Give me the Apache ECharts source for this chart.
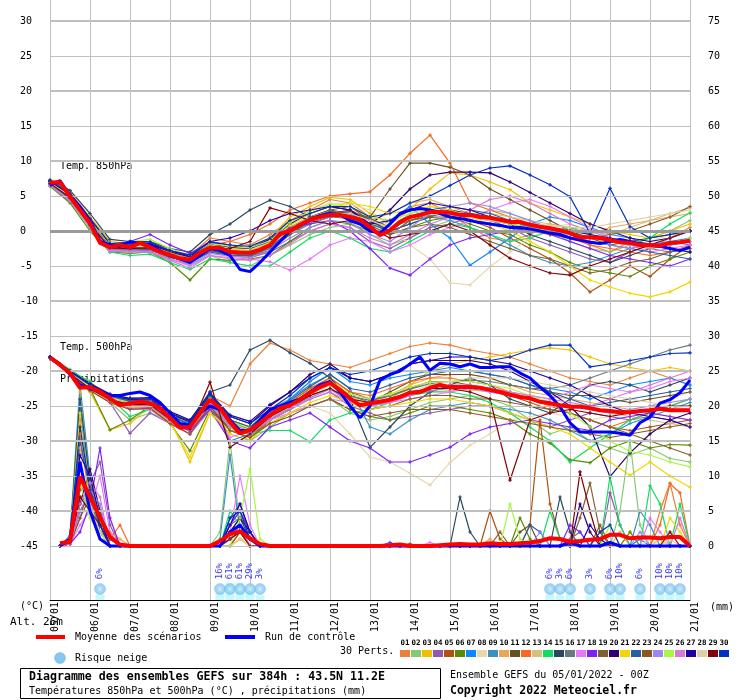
<!DOCTYPE html>
<html>
<head>
<meta charset="utf-8">
<script src="https://cdn.jsdelivr.net/npm/echarts/dist/echarts.min.js"></script>
<style>
  html, body { margin: 0; padding: 0; background: #fff; }
  #chart { width: 740px; height: 700px; }
</style>
</head>
<body>
<div id="chart"></div>
<script>
// x axis: hours since 05/01 00Z, one label per day
const dateLabels = ['05/01','06/01','07/01','08/01','09/01','10/01','11/01','12/01','13/01',
                    '14/01','15/01','16/01','17/01','18/01','19/01','20/01','21/01'];
const gridValues = [-45,-40,-35,-30,-25,-20,-15,-10,-5,0,5,10,15,20,25,30];

const memberColors = ['#e8823a','#88c870','#f0c000','#9058b0','#b05010','#5a8a00','#0c88ff','#e8d8b0',
  '#3c90c0','#e8a858','#6a5020','#f86820','#d4c080','#10dc60','#284860','#687880','#e878f8','#8020f8',
  '#806030','#300070','#f0d800','#2860a0','#8c5820','#9c88f0','#a8f840','#d878d8','#2000a0','#e0d0a8',
  '#800008','#0030c0'];

// 6-hourly: mean of scenarios and control run
const t850Mean = [6.9,7.0,4.9,3.0,1.1,-1.7,-2.3,-2.0,-2.3,-1.7,-2.3,-3.0,-3.4,-3.9,-4.1,-3.1,-2.4,-2.4,-3.0,-3.1,
  -3.1,-2.7,-2.0,-0.4,0.0,0.9,1.6,2.0,2.3,2.3,2.0,1.6,0.6,-0.6,0.1,1.3,2.0,2.3,2.7,2.7,
  2.6,2.3,2.3,2.0,1.9,1.6,1.3,1.3,0.9,0.6,0.4,0.1,-0.3,-0.9,-0.9,-1.0,-1.3,-1.6,-1.7,-2.0,
  -2.0,-2.1,-1.7,-1.6,-1.4];
const t850Ctrl = [6.5,7.2,5.0,3.5,1.5,-1.5,-2.0,-2.2,-1.5,-1.8,-2.0,-2.8,-3.5,-4.0,-4.5,-3.5,-2.5,-2.8,-3.5,-5.5,
  -5.8,-4.5,-3.0,-1.5,0.0,0.8,1.5,2.2,2.5,2.3,1.5,1.0,0.0,-0.3,1.0,2.5,3.0,3.2,3.0,2.5,
  2.0,1.8,1.5,1.2,1.0,0.8,0.5,0.5,0.3,0.0,-0.3,-0.5,-1.0,-1.3,-1.6,-1.8,-1.5,-1.2,-1.5,-1.8,
  -2.0,-2.2,-2.5,-2.8,-2.3];
const t500Mean = [-18.1,-19.1,-20.3,-22.4,-22.3,-23.0,-23.9,-24.9,-24.6,-24.4,-24.6,-25.3,-26.7,-28.1,-28.0,
  -26.0,-24.1,-25.3,-27.3,-28.9,-28.4,-27.4,-26.3,-25.3,-24.9,-24.1,-23.1,-22.3,-21.7,-22.7,
  -23.9,-24.9,-24.6,-24.4,-24.1,-23.7,-23.1,-23.0,-22.4,-22.0,-22.3,-22.3,-22.3,-22.4,-22.7,
  -23.0,-23.4,-23.7,-23.9,-24.4,-24.6,-24.9,-25.1,-25.1,-25.3,-25.6,-25.7,-25.9,-25.9,-25.7,
  -25.6,-25.4,-25.6,-25.6,-25.6];
const t500Ctrl = [-18.0,-19.0,-20.5,-22.0,-22.5,-23.0,-23.5,-23.5,-23.2,-23.0,-23.5,-24.5,-26.0,-27.5,-27.7,
  -26.0,-25.0,-25.5,-27.0,-28.5,-28.5,-27.0,-25.5,-25.0,-24.5,-24.0,-23.0,-22.0,-21.5,-23.0,
  -25.0,-26.7,-25.0,-21.3,-20.5,-20.0,-19.0,-18.0,-19.9,-18.9,-19.0,-19.4,-19.0,-19.5,-19.5,
  -19.4,-19.4,-20.3,-21.0,-22.3,-23.5,-25.1,-27.4,-28.7,-28.7,-28.7,-28.7,-28.9,-29.2,-27.4,
  -26.6,-24.6,-24.1,-23.1,-21.3];
const rainMean = [null,0.4,0.6,9.9,7.0,4.1,1.3,0.2,0,0,0,0,0,0,0,0,0,0.7,1.7,2.1,
  1.1,0.3,0,0,0,0,0,0,0,0,0,0,0,0,0.1,0.2,0,0,0,0.1,
  0.2,0.3,0.2,0.2,0.4,0.3,0.3,0.4,0.5,0.7,1.1,1.0,0.6,0.7,0.9,1.0,1.6,1.6,1.1,1.2,
  1.2,1.1,1.3,1.3,0];
// control precipitation, [6h step, mm], other steps dry
const rainCtrl = [[2,1],[3,12],[4,5],[5,1],[18,2],[19,3],[20,1],[52,0.5],[56,0.5]];

// 12-hourly members 01..30, 850 hPa
const t850Members = [
  [7,5.2,1.5,-2,-2.5,-1.8,-3,-3.5,-1,-1.5,-2,-0.5,1.5,3,4.5,4,2,1.5,3.5,4,2.5,0.5,-1,-1.5,-0.5,1,0.5,-2,-3,-1.5,-2.5,-1,0.5],
  [6.6,4.5,0.5,-2.8,-3,-2.5,-4,-4.8,-3.5,-4.5,-5,-3.5,-2,-0.5,0.5,1,-0.5,-2,-1,0.5,1.5,2,3,2.5,1.5,0,-1.5,-2.5,-3,-2,-1,0,1.5],
  [7.2,5.5,2,-1.5,-1.8,-2,-3,-4,-2,-2.5,-2.5,-1,2,3.5,4.8,4.5,2.5,1,3,6,8.3,8,7,5.9,4,3,2,1,0,-0.5,-1,0,1],
  [6.5,4.2,0.8,-2.5,-2.8,-2.8,-3.5,-4.5,-3,-3.5,-3.8,-3,-1.5,0,1,0.5,-1.5,-2.5,-1,0.5,1,2,1.5,0.5,-1,-2,-3,-4,-4.5,-3,-2,-2.5,-3],
  [6.8,4.6,1,-2.2,-2.5,-2.6,-3.8,-4.2,-2.8,-3,-3.5,-2.5,0.5,2,3,3.5,1.5,-0.5,1.5,2.5,3,1.5,0.5,-1,-2.5,-4,-6,-8.7,-7,-5,-6.5,-4,-2],
  [6.4,4,0,-3,-3.2,-3,-4.5,-7,-4,-4.2,-4,-3.5,-1.5,0.5,1.5,1,0,-0.5,0.5,1.5,2,1,0,-0.5,-2,-3,-4.5,-5.5,-6,-6.5,-5,-4,-3],
  [7.1,5,1.4,-2,-2,-2.2,-3.2,-3.8,-2.2,-2.8,-3,-1.5,0.5,2,2.5,2,0.5,1.5,3.5,1,-1,-4.9,-3,-1,1,2,1.5,0.5,-0.5,-1,-2,-1.5,-1],
  [6.7,4.8,1.2,-2.4,-2.2,-2,-3,-3.6,-2,-2.5,-2.8,-1,1,3,4,3.8,3,0.5,-2,-4,-7.4,-7.7,-5.1,-3,-1,0.5,1,0,-1,-2,-1.5,-0.5,0],
  [6.9,4.7,0.8,-2.6,-2.4,-2.3,-3.5,-4.3,-2.8,-3.2,-3.5,-2.5,-0.5,1,2,2.5,1.5,0,1,2,1.5,0.5,-0.5,-2,-3.5,-4.5,-5,-4.5,-3.5,-2.5,-2,-1.5,-2],
  [6.8,5.1,1.6,-2,-1.8,-1.5,-2.8,-3.5,-1.5,-2,-2.5,-1,1,2.5,3.5,3,1.5,2.5,4,4.5,3.5,2.5,2,1,0.5,0,-1,-0.5,0.5,1,1.5,2,2.5],
  [7,5,1.3,-2.1,-2.3,-2.4,-3.6,-4.4,-2.6,-3,-3.2,-2,0.5,2,3,2.5,2,6,9.7,9.7,9.1,8,6,4.5,3,1.5,0,-1,-2,-1.5,-1,-0.5,0],
  [6.6,4.4,0.6,-2.7,-2.6,-2.2,-3.2,-4,-2,-1.5,-0.5,1,3,4,5,5.3,5.6,8,11.1,13.7,9.7,4,3,2,1,0,-1,-2,-2.5,-3,-3.5,-3,-2],
  [6.9,5,1.2,-2.2,-2,-2,-3,-3.8,-2.2,-2.6,-2.8,-1.8,0.5,2,2.8,2.5,1,0.5,2.5,3.5,3,2.5,2.5,2,1.5,1,0.5,0,-0.5,0.5,1.5,2.5,3.3],
  [6.5,4.3,0.4,-3,-3.5,-3.3,-4.5,-5.5,-4,-4.5,-5,-5,-3,-1,0,-1,-2.5,-3,-1.5,0,1,0.5,-0.5,-1.5,-1,0,0.5,-0.5,-1.5,-2,-1,1,2.6],
  [7.3,5.8,2.5,-1.2,-1.5,-1.5,-2.5,-3,-0.5,1,3,4.4,3.5,2,2.5,3,1.5,0,1,2,3,2.5,2,1,-0.5,-1.5,-2.5,-3.5,-4.5,-3.5,-2.5,-2,-1.5],
  [6.8,4.9,1,-2.3,-2.4,-2.5,-3.5,-4.2,-2.5,-3,-3.3,-2.3,-0.3,1.2,2,1.8,0.3,-0.5,1.5,2.2,2.5,2,1.5,1,0.5,0,-0.5,-1,-1.5,-2,-2.5,-3,-2.5],
  [6.6,4.5,0.5,-2.8,-3,-3,-4,-5,-3.5,-3.8,-4,-4.4,-5.6,-4,-2,-1,-1.5,-3,-2,-0.5,0.5,1.5,3,4,4.5,3.5,2,0.5,-1,-2,-3,-2.5,-2],
  [7,5,1.2,-2,-1.5,-0.5,-2,-3.2,-1.5,-2,-2.5,-1.5,0.5,1,1.5,0,-2.5,-5.3,-6.3,-4,-2,-1,-0.5,0,0.5,-0.5,-1.5,-2.5,-3.5,-4,-4.5,-5,-4],
  [6.9,4.8,1,-2.4,-2.5,-2.5,-3.6,-4.4,-2.8,-3.4,-3.6,-2.8,-0.5,1.5,2.5,2.2,0.8,-0.5,0.5,1,0.5,-0.5,-1.5,-2.5,-3.5,-4,-5,-6,-5.5,-4.5,-4,-3,-2.5],
  [7.1,5.2,1.6,-1.8,-1.8,-1.9,-3,-3.7,-1.8,-2.3,-2.5,-1.2,1,2.5,3.5,3,1,3,6,8,8.4,8.4,8.3,7,5.5,4,2.5,1,0,-1,-1.5,-1,0],
  [6.8,5,1.4,-2.1,-2.1,-2.1,-3.2,-4,-2.3,-2.7,-2.9,-1.6,0.8,2.5,3.5,4,3.5,2.5,3,3.5,3,2,1,0,-1.5,-3,-5,-7,-8,-8.9,-9.4,-8.7,-7.3],
  [6.7,4.6,0.9,-2.5,-2.6,-2.6,-3.7,-4.5,-3,-3.5,-3.5,-2.2,0,1.8,2.8,2.5,1,0,2,3,3.5,3,2.5,1.5,0.5,-0.5,-1,-1.5,-2,-2.5,-3,-3.5,-4],
  [6.9,4.9,1.1,-2.2,-2.3,-2.2,-3.3,-4,-2.3,-2.8,-3,-1.9,0.2,1.6,2.5,2.8,1.8,0.5,1.5,2,2,1.5,1,0.5,0,-0.5,-1,-1,-0.5,0,1,2,3.5],
  [6.6,4.4,0.6,-2.7,-2.8,-2.9,-4,-4.8,-3.2,-3.6,-3.8,-2.8,-1,0.5,1.5,1.2,-0.5,-1.5,0.5,2.5,3.5,4,3.5,2.5,1.5,0.5,-0.5,-1.5,-2,-2.5,-2,-1,0],
  [6.8,4.9,1.3,-2,-1.5,-1.2,-2.5,-3.5,-1.8,-2.2,-2.4,-1.4,1.2,2.8,3.8,3.5,2,1.5,2.5,3,2.5,2,1.5,1,0.5,0,-0.5,-1,-1.5,-2,-2.5,-2,-1],
  [6.5,4.3,0.5,-2.9,-3,-3,-4.2,-5.3,-3.5,-4,-4.2,-3.5,-1.8,0,1,0.5,-1,-2,-0.5,1,2,3,4.5,5,4,2.5,1,0,-1,-2,-2.5,-2,-1.5],
  [7,5,1.2,-2.2,-2,-1.8,-2.8,-3.6,-1.5,-1,0,1.5,2.5,3,3.5,3,1,1.5,3,4,3.5,3,2,1.5,1,0.5,0,-0.5,-1,-1.5,-2,-2.5,-3],
  [6.9,5,1.2,-2.3,-2.2,-2.2,-3.3,-4,-2.4,-2.9,-3,-2,0,1.4,2.2,2.5,1.5,0.5,1.8,2.5,2.2,2,1.5,1.2,1,0.8,0.5,0.5,1,1.5,2,2.5,3],
  [6.8,4.8,1,-2.4,-2.5,-2.4,-3.5,-4.3,-2.6,-2.5,-1.5,3.3,2.5,1.5,1,1.5,0.5,-1,-0.5,0,1,0,-2,-3.9,-5,-6,-6.3,-5,-4,-3,-2,-1,0],
  [7.2,5.4,1.8,-1.8,-1.6,-1.6,-2.8,-3.4,-1.6,-2,-2.2,-1,1.5,2.5,3.5,3.5,2,2.5,4,5,6.5,8,9,9.3,8,6.6,4.9,-0.3,6.1,0.6,-1,-0.5,0]
];

// 12-hourly members 01..30, 500 hPa
const t500Members = [
  [-18,-20.5,-22,-24,-23.8,-24,-26,-27.5,-23.5,-25,-19,-16,-17,-18.5,-19,-19.5,-18.5,-17.5,-16.5,-16,-16.3,-17,-17.5,-18,-19,-20,-21,-21.5,-22,-21,-20,-21,-22],
  [-18,-20.2,-21.4,-24.5,-27,-26,-27,-28.5,-25.5,-28,-30,-28,-26,-25,-24,-26,-27,-26.5,-25.5,-24.5,-24,-23.5,-24,-25,-27,-29,-28,-30,-31,-32,-31,-32.5,-33],
  [-18.1,-20.4,-23,-28.4,-27.5,-25,-27,-33,-26,-29,-30,-27,-25,-23,-22,-24,-25,-24,-22,-20,-19,-18.5,-18,-17.5,-17,-16.7,-17,-18,-19,-19.5,-20,-19.5,-20],
  [-18.2,-20.6,-22.8,-24.5,-28.9,-26,-27.5,-29,-25.5,-28.5,-29.5,-27,-25.5,-24,-23,-25,-26,-27,-26.5,-26,-25.5,-25,-25,-26,-27,-28,-27,-26,-26.5,-27,-26.5,-27,-28],
  [-18,-20.1,-22.2,-23.8,-24.3,-24.2,-26.5,-28.5,-23,-27,-28.5,-26,-24.5,-22.5,-21,-23,-24,-23.5,-22.5,-21.5,-21.5,-22,-22.5,-23.5,-24.5,-25.5,-26,-27,-28,-28.5,-28,-27.5,-27],
  [-18.1,-20.5,-22.5,-28.4,-27,-25,-27.5,-31.4,-25.5,-28,-29,-27.5,-26,-25,-24,-25.5,-26.5,-27,-26,-25,-25,-25.5,-26,-27,-29,-30.3,-32.7,-33.1,-31,-30,-31,-30.5,-30.6],
  [-18.1,-20.2,-22.2,-23.5,-24.2,-24.3,-26.5,-27.5,-23,-30,-29,-26.5,-24,-21.5,-19.5,-21.5,-22,-21,-20.5,-20,-19.5,-20,-20.5,-21,-22,-22.5,-23,-24,-23,-22,-21.5,-21,-22],
  [-18.2,-20.4,-22.3,-24,-24.8,-24.5,-26.8,-28.5,-24.5,-28,-29,-27,-26,-25,-26,-29,-32.3,-33,-34.6,-36.3,-33.1,-30.6,-29,-27,-26.5,-26,-26.5,-27,-26.5,-25.5,-25,-24,-23],
  [-18,-20.2,-22,-23.6,-24.3,-24.4,-26.3,-27.6,-23.8,-27,-28,-25.5,-24,-22,-20.5,-22.5,-28,-29,-27,-25.5,-25,-24.5,-25,-25.5,-26,-27,-28.5,-30,-29,-27.5,-26.5,-25.5,-24.5],
  [-18.1,-20.3,-22.5,-24.2,-25,-24.8,-26.8,-28,-24.2,-27.5,-28.5,-26.5,-25,-23.5,-22.5,-24,-24.5,-23.5,-22,-21,-20.5,-20.5,-21,-22,-23,-23.5,-24,-24.5,-25,-25.5,-26,-26.5,-27],
  [-18.2,-20.4,-22.6,-24.3,-25.2,-25,-27,-28.5,-25,-28.5,-29,-27,-25.5,-23.5,-21.5,-23.5,-24.5,-23,-21.5,-20.5,-20.5,-20.5,-21,-22,-22.5,-23,-23.5,-23.5,-24,-24.5,-24,-23.5,-23],
  [-18.1,-20.3,-22.1,-23.7,-24.4,-24.5,-26.6,-27.8,-24,-27,-28,-26,-24.5,-22.5,-21,-23,-23.5,-22.5,-21.5,-21,-21,-21.5,-22,-23,-24,-25,-26,-27,-28,-27,-26,-25,-24],
  [-18.1,-20.3,-22.4,-24.1,-24.8,-24.7,-27,-28.3,-24.3,-27.6,-28.6,-26.6,-25,-23.3,-22,-24,-25,-24.5,-23.5,-23,-22.8,-22.7,-23,-23.5,-24,-24.5,-25,-25.5,-26,-26.5,-27,-27.5,-28],
  [-18,-19.8,-21.6,-23.8,-26.5,-25.5,-27,-28.5,-24.5,-28,-29,-28.5,-28.5,-30.1,-27,-26,-25.5,-24.5,-23.5,-23,-23,-23.5,-24.5,-26,-28,-30,-33,-31,-29,-27,-26,-25,-24],
  [-18.2,-20,-22.5,-23.5,-24,-24.5,-26.5,-27,-23,-22,-17,-15.6,-17.4,-18.9,-21,-24,-30.9,-28,-25,-23,-22,-21,-22,-24,-25,-26,-24,-22,-21.5,-22,-23,-22,-21],
  [-18.1,-20.3,-22.3,-23.9,-24.6,-24.6,-26.7,-28,-24,-27.3,-28.3,-26.2,-24.8,-23,-21.8,-23.6,-24.2,-23.6,-22.6,-21.8,-21.5,-21.3,-21.5,-22,-22.5,-22.5,-22,-21,-20,-19,-18,-17,-16.3],
  [-18.2,-20.5,-22.7,-24.4,-25.5,-25.5,-27.5,-29,-25.5,-29.5,-28.5,-27,-26,-25,-24,-24.5,-25,-24.5,-24,-23.5,-23,-22.5,-22.5,-23,-23.5,-24,-23,-22,-22.5,-23,-22.5,-21.5,-21],
  [-18.1,-20.4,-22.4,-24.2,-25.3,-25.2,-27.2,-28.6,-25.5,-30,-31,-28,-27,-26,-28,-30,-31,-33,-33,-32,-30.9,-29,-28,-27.5,-27,-27.5,-28,-28.5,-27,-26.5,-26,-26.5,-27],
  [-18.1,-20.3,-22.2,-23.8,-24.5,-24.5,-26.8,-28.2,-24.2,-27.5,-28.5,-26.5,-25,-23.5,-22.5,-24.5,-25.5,-25,-24,-23.5,-23.5,-24,-24,-24.5,-25,-25.5,-26,-27,-28,-29,-30,-31,-32],
  [-18,-20.1,-22,-23.5,-24.1,-24,-26,-27.3,-23.5,-26.5,-27.5,-25,-23,-20.5,-19,-21,-21.5,-20.5,-19,-18.5,-18.5,-18.5,-19,-20,-21.5,-23,-25,-28,-35.1,-31.7,-29,-27,-26],
  [-18.1,-20.4,-22.6,-24.4,-25.2,-25.1,-27.3,-32.3,-26,-28.5,-29.5,-27.5,-26,-24.5,-23.5,-24.5,-25.5,-25,-24.5,-24,-24,-24.5,-25,-26,-27,-28,-29,-31,-33,-34.9,-33,-35,-36.6],
  [-18.1,-20.2,-22.1,-23.6,-24.3,-24.3,-26.4,-27.7,-23.6,-27,-28,-25.8,-24.2,-22.2,-20.5,-22.5,-23,-22,-21,-20.5,-20,-20,-20.5,-21,-22,-23,-24,-25,-24.5,-24,-23.5,-23,-22.5],
  [-18.2,-20.5,-22.8,-24.5,-25.5,-25.3,-27.5,-29,-25,-28.5,-29.5,-27.5,-26.5,-25,-24,-25.5,-26.5,-26,-25.5,-25.5,-25.5,-26,-26.5,-27,-27.5,-28,-28.5,-29,-29.5,-29,-28.5,-28,-27.5],
  [-18.1,-20.3,-22.4,-24,-24.7,-24.8,-26.9,-28.3,-24.5,-27.8,-28.8,-26.8,-25.3,-23.8,-22.6,-24.3,-25,-24.5,-23.5,-22.8,-22.5,-22.5,-23,-23.5,-24,-24.5,-25,-25.5,-26,-25.5,-25,-24.5,-24],
  [-18.1,-20.2,-22.2,-23.8,-24.5,-24.4,-26.6,-27.9,-24,-27.2,-28.2,-26.2,-24.7,-22.8,-21.4,-23.3,-24,-23.3,-22.3,-21.6,-21.5,-21.5,-22,-22.5,-23.5,-24.5,-26,-28,-30,-31.5,-32,-33,-33.7],
  [-18.2,-20.4,-22.5,-24.2,-25,-25,-27.1,-28.4,-24.8,-28,-29,-27,-25.5,-24,-23,-24.5,-25,-24.5,-23.5,-22.5,-22,-22,-22.5,-23,-23.5,-24,-24.5,-25,-24,-23,-22,-21,-20],
  [-18,-20,-21.8,-23.3,-23.9,-23.8,-25.8,-27,-23.2,-26.3,-27.2,-24.8,-23,-21,-19.5,-21,-21.5,-20.5,-19,-18.5,-18,-18,-18.5,-19,-20,-21,-22,-23.5,-25,-26,-26.5,-27,-28],
  [-18.1,-20.3,-22.3,-23.9,-24.7,-24.7,-26.8,-28.1,-24.2,-27.4,-28.5,-26.4,-25,-23.3,-21.9,-23.8,-24.5,-24,-23,-22,-21.5,-21,-21,-21,-21.5,-22,-22.5,-23,-23.5,-24,-24.5,-25,-25.5],
  [-18.1,-20.4,-22.5,-24.1,-24.8,-24.8,-26.9,-28.3,-21.6,-30.9,-29,-26.5,-25,-23.5,-22.5,-24,-24.5,-24,-23,-22.5,-22.5,-23,-24,-35.6,-27,-26,-25.5,-26,-26.5,-26,-25.5,-25,-25],
  [-18,-20.1,-22,-23.5,-24,-24,-26,-27.2,-23.2,-26.5,-27.5,-25.5,-23.5,-21,-19.5,-20.5,-20,-19,-18,-17.5,-17.5,-18,-18.5,-18,-17,-16.3,-16.3,-19.4,-19,-18.5,-18,-17.5,-17.4]
];

// precipitation per member: [6h step, mm], other steps dry
const rainMembers = [
  [[2,0.5],[3,18],[4,6],[5,2],[18,2],[19,3],[20,1],[61,5],[62,9],[63,3]],
  [[2,1],[3,8],[4,10],[5,3],[17,2],[18,15],[19,3],[57,5],[58,15],[59,3]],
  [[2,0.5],[3,22],[4,8],[5,1],[18,1],[19,2],[58,2]],
  [[2,0.3],[3,4],[4,9],[5,12],[6,3],[18,3],[19,4],[20,2],[56,7.6],[57,3]],
  [[2,1],[3,12],[4,5],[5,2],[19,1],[36,0.3],[44,5],[45,1],[48,3],[49,18],[50,6],[51,1]],
  [[2,0.5],[3,6],[4,8],[5,4],[6,1],[18,2],[19,3],[20,1],[47,4],[48,1],[58,2]],
  [[2,1],[3,20],[4,6],[5,2],[18,3],[19,5],[20,2],[59,1]],
  [[2,0.5],[3,10],[4,4],[5,2],[19,1],[20,1],[60,1]],
  [[2,1.5],[3,23],[4,10],[5,3],[17,1],[18,13],[19,2],[59,5],[60,3]],
  [[2,0.5],[3,14],[4,9],[5,3],[6,2],[7,1],[19,2],[20,1],[44,1],[57,2]],
  [[2,0.3],[3,5],[4,7],[5,3],[18,1],[19,3],[20,1],[47,2],[48,3]],
  [[2,1],[3,16],[4,6],[5,2],[6,1],[7,3],[18,2],[19,2],[61,3],[62,8.9],[63,7.6]],
  [[2,0.5],[3,9],[4,5],[5,2],[19,1],[61,1]],
  [[2,0.5],[3,11],[4,7],[5,2],[18,5],[19,3],[20,1],[50,5],[51,1],[56,10],[57,3],[60,8.6],[61,6],[63,6]],
  [[2,1],[3,21],[4,9],[5,2],[18,2],[19,4],[20,1],[41,7],[42,2],[51,7],[52,2]],
  [[2,0.5],[3,7],[4,6],[5,3],[18,1],[19,2],[52,1],[53,2]],
  [[2,0.3],[3,3],[4,5],[5,10],[6,2],[18,2],[19,10],[20,3],[38,0.5],[60,4],[61,2]],
  [[2,0.3],[3,2],[4,6],[5,14],[6,4],[18,3],[19,5],[20,2],[34,0.5],[52,3],[53,2]],
  [[2,0.5],[3,8],[4,9],[5,3],[19,2],[53,4],[54,9],[55,2]],
  [[2,0.3],[3,6],[4,11],[5,5],[18,2],[19,4],[20,2],[53,6],[54,2]],
  [[2,1],[3,19],[4,5],[5,1],[19,1],[62,4],[63,2]],
  [[2,1],[3,15],[4,8],[5,4],[18,4],[19,6],[20,2],[48,3],[49,2]],
  [[2,0.3],[3,4],[4,7],[5,5],[6,1],[19,2],[20,1],[45,2],[55,3]],
  [[2,0.3],[3,5],[4,8],[5,6],[18,2],[19,3],[20,1],[49,2],[59,2]],
  [[2,0.5],[3,9],[4,4],[5,2],[19,4],[20,11],[21,1],[46,6],[47,1],[56,3]],
  [[2,0.3],[3,6],[4,9],[5,7],[18,1],[19,3],[63,4]],
  [[2,0.5],[3,13],[4,10],[5,4],[18,3],[19,6],[20,2],[54,3],[55,1]],
  [[2,0.5],[3,10],[4,6],[5,2],[19,1],[62,1]],
  [[2,0.5],[3,7],[4,5],[5,3],[18,1],[19,2],[53,10.6],[54,5],[62,2]],
  [[2,1],[3,17],[4,8],[5,3],[18,4],[19,5],[20,1],[55,2],[56,3]]
];

// snow risk: [6h step, % of members]
const snowRisk = [[5,6],[17,16],[18,61],[19,61],[20,29],[21,3],[50,6],[51,3],[52,6],[54,3],
  [56,6],[57,10],[59,6],[61,10],[62,10],[63,10]];

const FONT = '"DejaVu Sans Mono", "Liberation Mono", monospace';
const LAST_STEP = 64;
const flakePath = 'path://M4.5,0h1v10h-1z M0,4.5h10v1h-10z M1.2,1.9l0.7,-0.7l7,7l-0.7,0.7z M8.1,1.2l0.7,0.7l-7,7l-0.7,-0.7z';
const plusPath = 'path://M1,0h1v3h-1z M0,1h3v1h-3z';

const every6h = arr => arr.map((v, i) => [i * 6, v]);
const every12h = arr => arr.map((v, i) => [i * 12, v]);
function rainLine(events) {
  const out = [];
  for (let s = 1; s <= LAST_STEP; s++) out.push([s * 6, 0]);
  events.forEach(([s, v]) => { out[s - 1][1] = v; });
  return out;
}

function memberSeries(data, color, yAxisIndex) {
  return {
    type: 'line', data: data, xAxisIndex: 0, yAxisIndex: yAxisIndex,
    showSymbol: true, symbol: plusPath, symbolSize: 3.5, clip: false,
    lineStyle: { color: color, width: 1.2 }, itemStyle: { color: color },
    silent: true, z: 2
  };
}
function thickSeries(data, color, width, yAxisIndex, z) {
  return {
    type: 'line', data: data, xAxisIndex: 0, yAxisIndex: yAxisIndex,
    showSymbol: false, clip: false, connectNulls: false,
    lineStyle: { color: color, width: width }, silent: true, z: z
  };
}

const series = [];
// horizontal grid lines
series.push({
  type: 'line', data: [], xAxisIndex: 0, yAxisIndex: 0, z: 1, silent: true,
  markLine: {
    silent: true, symbol: ['none', 'none'], animation: false,
    label: { show: false },
    data: gridValues.map(v => ({
      yAxis: v,
      lineStyle: {
        type: 'solid',
        color: v === 0 ? '#9a9a9a' : '#c0c0c0',
        width: v === 0 ? 3 : (v % 10 === 0 ? 2 : 1)
      }
    }))
  }
});
t850Members.forEach((m, i) => series.push(memberSeries(every12h(m), memberColors[i], 0)));
t500Members.forEach((m, i) => series.push(memberSeries(every12h(m), memberColors[i], 0)));
rainMembers.forEach((m, i) => series.push(memberSeries(rainLine(m), memberColors[i], 1)));

series.push(thickSeries(every6h(t850Ctrl), '#0000ff', 3, 0, 5));
series.push(thickSeries(every6h(t500Ctrl), '#0000ff', 3, 0, 5));
series.push(thickSeries(rainLine(rainCtrl), '#0000ff', 3, 1, 5));
series.push(thickSeries(every6h(t850Mean), '#ff0000', 4, 0, 6));
series.push(thickSeries(every6h(t500Mean), '#ff0000', 4, 0, 6));
series.push(thickSeries(every6h(rainMean), '#ff0000', 4, 1, 6));

// snow risk strip
series.push({
  type: 'bar', xAxisIndex: 1, yAxisIndex: 2, stack: 'snow', barWidth: 9, silent: true,
  itemStyle: { color: 'rgba(0,0,0,0)' },
  data: snowRisk.map(([s]) => [s * 6, 16])
});
series.push({
  type: 'bar', xAxisIndex: 1, yAxisIndex: 2, stack: 'snow', barWidth: 9, silent: true,
  itemStyle: { color: '#c4fafc' },
  data: snowRisk.map(([s, p]) => [s * 6, 4 + p * 0.22])
});
series.push({
  type: 'scatter', xAxisIndex: 1, yAxisIndex: 2, symbol: 'circle', symbolSize: 11, silent: true, z: 4,
  itemStyle: { color: '#86c8f0', borderColor: '#6ab4e4', borderWidth: 0.5 },
  data: snowRisk.map(([s, p]) => [s * 6, 11, p]),
  label: {
    show: true, position: 'top', distance: 4, rotate: 90, align: 'left', verticalAlign: 'middle',
    formatter: p => p.value[2] + '%', color: '#0000ff', fontSize: 9, fontFamily: FONT
  }
});
series.push({
  type: 'scatter', xAxisIndex: 1, yAxisIndex: 2, symbol: flakePath, symbolSize: 7, silent: true, z: 5,
  itemStyle: { color: '#e8f6ff', opacity: 0.7 },
  data: snowRisk.map(([s]) => [s * 6, 11])
});

// legend and captions
const graphic = [];
function txt(x, y, text, size, bold, extra) {
  graphic.push(Object.assign({
    type: 'text', x: x, y: y, silent: true,
    style: { text: text, fill: '#000', font: (bold ? 'bold ' : '') + size + 'px ' + FONT, verticalAlign: 'middle' }
  }, extra || {}));
}
txt(60, 166, 'Temp. 850hPa', 10);
txt(60, 347, 'Temp. 500hPa', 10);
txt(60, 379, 'Précipitations', 10);
txt(20, 606, '(°C)', 10);
txt(10, 622, 'Alt. 26m', 11);
txt(710, 607, '(mm)', 10);
graphic.push({ type: 'line', silent: true, shape: { x1: 36, y1: 637, x2: 65, y2: 637 }, style: { stroke: '#ff0000', lineWidth: 4 } });
txt(75, 637, 'Moyenne des scénarios', 10);
graphic.push({ type: 'line', silent: true, shape: { x1: 225, y1: 637, x2: 255, y2: 637 }, style: { stroke: '#0000ff', lineWidth: 4 } });
txt(265, 637, 'Run de contrôle', 10);
graphic.push({ type: 'circle', silent: true, shape: { cx: 60, cy: 658, r: 5.5 }, style: { fill: '#86c8f0', stroke: '#6ab4e4', lineWidth: 0.5 } });
txt(75, 658, 'Risque neige', 10);
txt(340, 651, '30 Perts.', 10);
memberColors.forEach((c, i) => {
  const num = String(i + 1).padStart(2, '0');
  graphic.push({
    type: 'text', x: 405 + 11 * i, y: 643, silent: true,
    style: { text: num, fill: '#000', font: 'bold 7.5px ' + FONT, align: 'center', verticalAlign: 'middle' }
  });
  graphic.push({ type: 'rect', silent: true, shape: { x: 400 + 11 * i, y: 650, width: 10, height: 7 }, style: { fill: c } });
});
graphic.push({ type: 'rect', silent: true, shape: { x: 20.5, y: 668.5, width: 420, height: 30 }, style: { fill: 'none', stroke: '#000', lineWidth: 1 } });
txt(29, 677, 'Diagramme des ensembles GEFS sur 384h : 43.5N 11.2E', 11.6, true);
txt(29, 691, 'Températures 850hPa et 500hPa (°C) , précipitations (mm)', 10);
txt(450, 675, 'Ensemble GEFS du 05/01/2022 - 00Z', 10);
txt(450, 691, 'Copyright 2022 Meteociel.fr', 11.5, true);

const chart = echarts.init(document.getElementById('chart'));
chart.setOption({
  animation: false,
  backgroundColor: '#ffffff',
  grid: [
    { left: 50, right: 50, top: 0, height: 546 },
    { left: 50, right: 50, top: 546, height: 54 }
  ],
  xAxis: [
    {
      type: 'value', gridIndex: 0, min: 0, max: 384, interval: 24,
      axisLine: { show: false }, axisTick: { show: false }, axisLabel: { show: false },
      splitLine: { show: true, lineStyle: { color: '#c0c0c0', width: 1 } }
    },
    {
      type: 'value', gridIndex: 1, min: 0, max: 384, interval: 24,
      axisLine: { show: true, lineStyle: { color: '#000', width: 1 } },
      axisTick: { show: false },
      axisLabel: {
        rotate: 90, margin: 2, verticalAlign: 'top', color: '#000', fontSize: 10, fontFamily: FONT,
        formatter: v => dateLabels[Math.round(v / 24)]
      },
      splitLine: { show: true, lineStyle: { color: '#c0c0c0', width: 1 } }
    }
  ],
  yAxis: [
    {
      type: 'value', gridIndex: 0, position: 'left', min: -45, max: 33, interval: 5,
      axisLine: { show: false }, axisTick: { show: false }, splitLine: { show: false },
      axisLabel: {
        align: 'left', margin: 30, color: '#000', fontSize: 10, fontFamily: FONT,
        formatter: v => (v <= 30 ? String(v) : '')
      }
    },
    {
      type: 'value', gridIndex: 0, position: 'right', min: 0, max: 78, interval: 5,
      axisLine: { show: false }, axisTick: { show: false }, splitLine: { show: false },
      axisLabel: {
        margin: 18, color: '#000', fontSize: 10, fontFamily: FONT,
        formatter: v => (v <= 75 ? String(v) : '')
      }
    },
    { type: 'value', gridIndex: 1, min: 0, max: 54, show: false, splitLine: { show: false } }
  ],
  series: series,
  graphic: graphic
});
</script>
</body>
</html>
